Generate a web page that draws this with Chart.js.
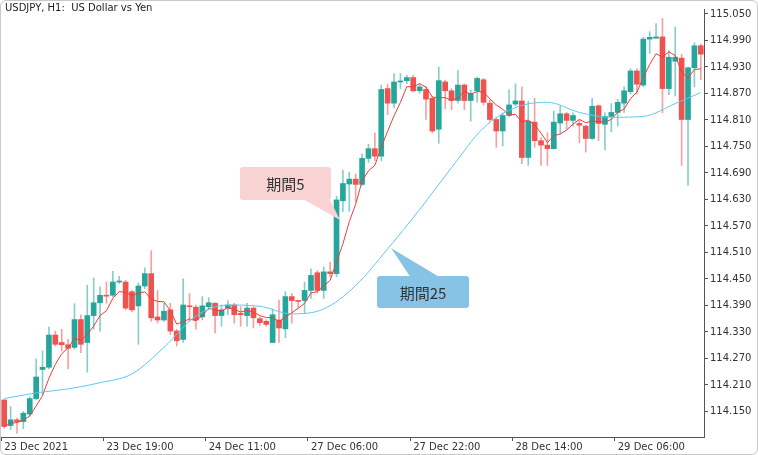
<!DOCTYPE html>
<html>
<head>
<meta charset="utf-8">
<script src="https://cdn.jsdelivr.net/npm/chart.js@4/dist/chart.umd.min.js"></script>
<style>
  body { margin: 0; background: #fff; font-family: "DejaVu Sans", sans-serif; }
  #wrap { position: relative; width: 756px; height: 453px; border: 1px solid #c8c8c8; border-radius: 6px; overflow: hidden; }
  #title { position: absolute; left: 4px; top: 1px; font-size: 10px; color: #222; }
</style>
</head>
<body>
<div id="wrap">
  <canvas id="myChart" width="756" height="453"></canvas>
  <div id="title">USDJPY, H1:&nbsp; US Dollar vs Yen</div>
</div>
<script>
// datos de velas (H1)
const opens = [114.176,114.118,114.131,114.127,114.144,114.179,114.245,114.250,114.323,114.306,
  114.301,114.295,114.358,114.306,114.367,114.396,114.413,114.413,114.443,114.443,
  114.421,114.389,114.434,114.462,114.364,114.357,114.380,114.332,114.313,114.389,
  114.386,114.364,114.387,114.395,114.367,114.384,114.391,114.372,114.367,114.384,
  114.360,114.354,114.306,114.357,114.337,114.410,114.401,114.401,114.424,114.464,
  114.424,114.466,114.462,114.627,114.665,114.676,114.664,114.723,114.745,114.728,
  114.881,114.848,114.896,114.899,114.906,114.876,114.879,114.859,114.789,114.896,
  114.876,114.854,114.889,114.854,114.876,114.901,114.848,114.811,114.785,114.820,
  114.846,114.853,114.725,114.805,114.763,114.753,114.745,114.803,114.824,114.809,
  114.802,114.796,114.768,114.842,114.800,114.818,114.827,114.848,114.874,114.921,
  114.889,114.993,114.995,114.998,114.881,114.943,114.950,114.811,114.928,114.978];
const highs = [114.176,114.161,114.135,114.150,114.183,114.269,114.287,114.341,114.332,114.336,
  114.313,114.394,114.369,114.436,114.452,114.432,114.443,114.467,114.456,114.447,
  114.424,114.441,114.475,114.514,114.424,114.395,114.395,114.336,114.450,114.417,
  114.391,114.410,114.408,114.396,114.391,114.401,114.395,114.387,114.395,114.387,
  114.364,114.358,114.382,114.402,114.421,114.417,114.402,114.443,114.473,114.469,
  114.477,114.488,114.637,114.696,114.692,114.688,114.733,114.755,114.781,114.889,
  114.891,114.915,114.915,114.911,114.911,114.892,114.885,114.863,114.930,114.900,
  114.881,114.922,114.892,114.878,114.907,114.904,114.855,114.815,114.826,114.878,
  114.892,114.885,114.852,114.859,114.770,114.781,114.830,114.841,114.827,114.826,
  114.811,114.798,114.859,114.844,114.826,114.847,114.857,114.885,114.926,114.926,
  114.997,115.010,115.028,115.040,114.967,115.020,114.959,114.930,114.985,114.982];
const lows = [114.112,114.109,114.101,114.111,114.139,114.176,114.187,114.246,114.298,114.287,
  114.246,114.291,114.283,114.239,114.336,114.332,114.395,114.409,114.439,114.380,
  114.376,114.302,114.428,114.354,114.350,114.354,114.324,114.298,114.306,114.354,
  114.336,114.357,114.380,114.328,114.343,114.369,114.350,114.343,114.343,114.339,
  114.345,114.343,114.306,114.306,114.317,114.350,114.384,114.372,114.406,114.418,
  114.406,114.455,114.455,114.603,114.603,114.625,114.662,114.714,114.718,114.718,
  114.822,114.837,114.881,114.892,114.874,114.870,114.811,114.781,114.757,114.835,
  114.833,114.848,114.833,114.807,114.850,114.844,114.807,114.748,114.751,114.817,
  114.842,114.711,114.707,114.748,114.707,114.707,114.744,114.778,114.789,114.796,
  114.758,114.737,114.766,114.763,114.742,114.783,114.796,114.827,114.869,114.869,
  114.885,114.961,114.995,114.826,114.867,114.864,114.707,114.662,114.885,114.901];
const closes = [114.116,114.131,114.127,114.146,114.179,114.228,114.250,114.323,114.302,114.301,
  114.293,114.358,114.302,114.367,114.396,114.413,114.411,114.443,114.445,114.384,
  114.380,114.434,114.462,114.362,114.357,114.377,114.332,114.310,114.391,114.387,
  114.357,114.389,114.396,114.367,114.380,114.391,114.369,114.369,114.384,114.362,
  114.351,114.347,114.369,114.339,114.410,114.401,114.399,114.424,114.458,114.424,
  114.466,114.462,114.629,114.666,114.676,114.664,114.723,114.745,114.728,114.879,
  114.848,114.896,114.898,114.906,114.876,114.885,114.857,114.785,114.899,114.876,
  114.854,114.889,114.854,114.870,114.904,114.850,114.811,114.785,114.820,114.844,
  114.853,114.725,114.807,114.763,114.753,114.745,114.805,114.824,114.809,114.820,
  114.798,114.768,114.841,114.802,114.818,114.827,114.850,114.876,114.921,114.891,
  114.993,114.997,114.998,114.881,114.952,114.952,114.811,114.928,114.978,114.959];

// media móvil 25 (cada 5 velas)
const ma25Idx = [0,5,10,15,20,25,30,35,40,45,50,55,60,65,70,75,80,85,90,95,100,105,109];
const ma25Val = [114.179,114.192,114.201,114.215,114.235,114.295,114.366,114.391,114.388,114.371,114.382,
  114.435,114.518,114.607,114.702,114.792,114.838,114.850,114.827,114.816,114.818,114.847,114.872];

// etiquetas del eje x
const xTickIdx = [0,16,32,48,64,80,96];
const xTickText = ["23 Dec 2021","23 Dec 19:00","24 Dec 11:00","27 Dec 06:00","27 Dec 22:00","28 Dec 14:00","29 Dec 06:00"];
const yTicks = [114.150,114.210,114.270,114.330,114.390,114.450,114.510,114.570,114.630,114.690,114.750,114.810,114.870,114.930,114.990,115.050];

const GREEN = "#26a69a";
const RED = "#ef5350";

const labels = opens.map((_, i) => {
  const k = xTickIdx.indexOf(i);
  return k >= 0 ? xTickText[k] : "";
});

const up = opens.map((o, i) => closes[i] >= o);
const bodies = opens.map((o, i) => [o, closes[i]]);
const wicks = lows.map((l, i) => [l, highs[i]]);

// media móvil 5 calculada de los cierres
const ma5 = closes.map((c, i) => {
  const from = Math.max(0, i - 4);
  const slice = closes.slice(from, i + 1);
  return slice.reduce((a, b) => a + b, 0) / slice.length;
});

const ma25 = opens.map(() => null);
ma25Idx.forEach((idx, k) => { ma25[idx] = ma25Val[k]; });

// globos de texto
const callouts = {
  id: "callouts",
  afterDraw(chart) {
    const ctx = chart.ctx;
    function bubble(x, y, w, h, tail, color, text) {
      ctx.save();
      ctx.fillStyle = color;
      ctx.beginPath();
      ctx.moveTo(tail[0][0], tail[0][1]);
      ctx.lineTo(tail[1][0], tail[1][1]);
      ctx.lineTo(tail[2][0], tail[2][1]);
      ctx.closePath();
      ctx.fill();
      ctx.beginPath();
      ctx.roundRect(x, y, w, h, 3);
      ctx.fill();
      ctx.fillStyle = "#333";
      ctx.font = "15px 'Noto Sans CJK JP', sans-serif";
      ctx.textAlign = "center";
      ctx.textBaseline = "middle";
      ctx.fillText(text, x + w / 2, y + h / 2 + 1);
      ctx.restore();
    }
    bubble(239, 166, 91, 33, [[300, 197], [328, 197], [339, 219]], "#f9d3d3", "期間5");
    bubble(376, 275, 92, 32, [[410, 277], [440, 277], [390, 247]], "#86c3e4", "期間25");
  }
};

new Chart("myChart", {
  data: {
    labels: labels,
    datasets: [
      { type: "line", data: ma25, borderColor: "#5cc9f5", borderWidth: 1, pointRadius: 0, spanGaps: true, cubicInterpolationMode: "monotone", order: 0 },
      { type: "line", data: ma5, borderColor: "#f03c3c", borderWidth: 1, pointRadius: 0, order: 1 },
      { type: "bar", data: bodies, backgroundColor: up.map(u => u ? GREEN : RED), barThickness: 5, minBarLength: 1, grouped: false, order: 2 },
      { type: "bar", data: wicks, backgroundColor: up.map(u => u ? "rgba(38,166,154,0.55)" : "rgba(239,83,80,0.55)"), barThickness: 1, grouped: false, order: 3 }
    ]
  },
  options: {
    responsive: false,
    animation: false,
    layout: { padding: { top: -9, left: 0, right: 0, bottom: 0 } },
    plugins: { legend: { display: false }, tooltip: { enabled: false } },
    scales: {
      x: {
        offset: true,
        border: { color: "#555" },
        grid: {
          drawOnChartArea: false,
          tickLength: 4,
          color: ctx => (ctx.tick && ctx.tick.label) ? "#555" : "rgba(0,0,0,0)"
        },
        ticks: {
          autoSkip: false, maxRotation: 0, align: "start", padding: 0,
          color: "#333", font: { family: "DejaVu Sans", size: 10 },
          callback: (v, i) => labels[i]
        },
        afterFit: s => { s.height = 17; }
      },
      y: {
        position: "right",
        min: 114.0921,
        max: 115.0612,
        border: { color: "#555" },
        grid: { drawOnChartArea: false, tickLength: 4, color: "#555" },
        afterBuildTicks: s => { s.ticks = yTicks.map(v => ({ value: v })); },
        ticks: {
          padding: 2, color: "#333", font: { family: "DejaVu Sans", size: 10 },
          callback: v => v.toFixed(3)
        },
        afterFit: s => { s.width = 53; }
      }
    }
  },
  plugins: [callouts]
});
</script>
</body>
</html>
